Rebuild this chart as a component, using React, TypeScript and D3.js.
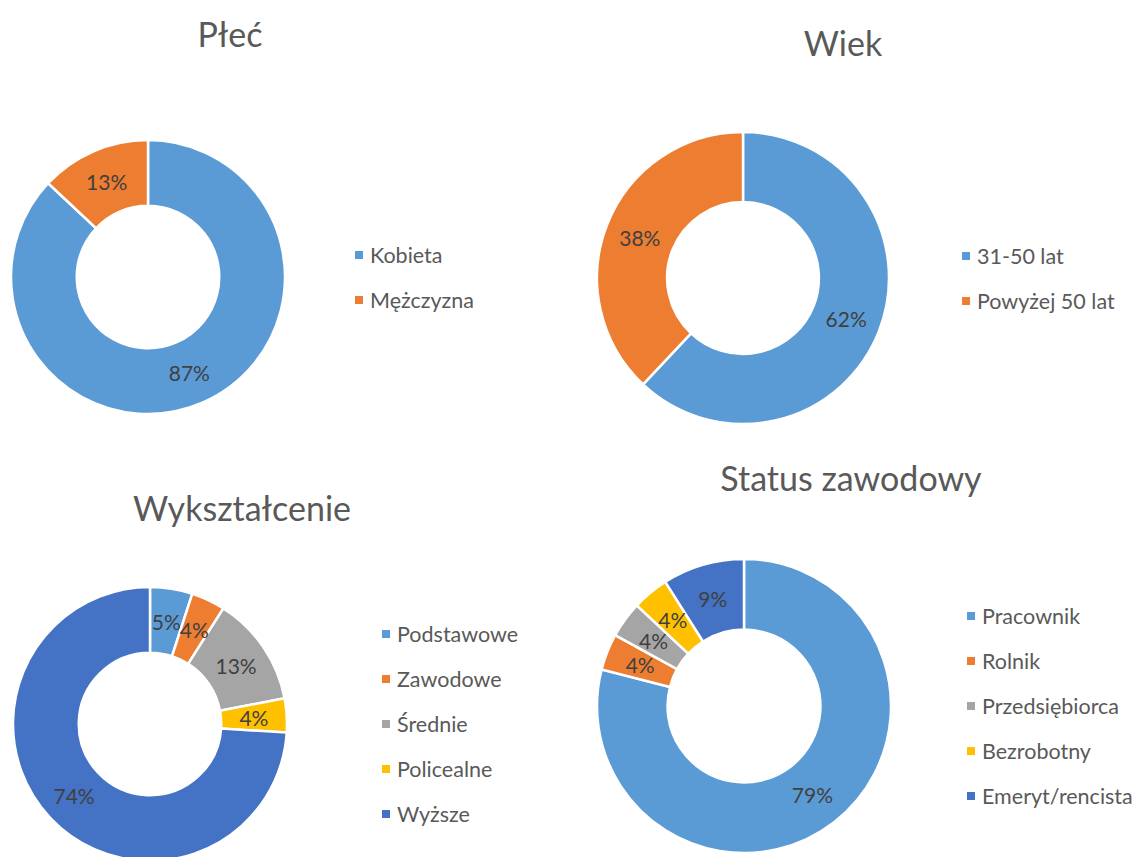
import React from "react";
import * as d3 from "d3";

const C_BLUE = "#5B9BD5";
const C_ORANGE = "#ED7D31";
const C_GRAY = "#A5A5A5";
const C_YELLOW = "#FFC000";
const C_DBLUE = "#4472C4";

const plecCategories = ["Kobieta", "Mężczyzna"];
const plecValues = [87, 13];
const plecColors = [C_BLUE, C_ORANGE];

const wiekCategories = ["31-50 lat", "Powyżej 50 lat"];
const wiekValues = [62, 38];
const wiekColors = [C_BLUE, C_ORANGE];

const wyksztCategories = ["Podstawowe", "Zawodowe", "Średnie", "Policealne", "Wyższe"];
const wyksztValues = [5, 4, 13, 4, 74];
const wyksztColors = [C_BLUE, C_ORANGE, C_GRAY, C_YELLOW, C_DBLUE];

const statusCategories = ["Pracownik", "Rolnik", "Przedsiębiorca", "Bezrobotny", "Emeryt/rencista"];
const statusValues = [79, 4, 4, 4, 9];
const statusColors = [C_BLUE, C_ORANGE, C_GRAY, C_YELLOW, C_DBLUE];

const FONT = "Lato, 'Open Sans', sans-serif";

type DonutProps = {
  title: string;
  titleX: number;
  titleY: number;
  cx: number;
  cy: number;
  r: number;
  categories: string[];
  values: number[];
  colors: string[];
  legendX: number;
  legendY: number;
  legendStep: number;
};

function Donut(p: DonutProps) {
  const pie = d3
    .pie<number>()
    .sort(null)
    .value((d) => d)
    .startAngle(0)
    .endAngle(2 * Math.PI);
  const arcs = pie(p.values);
  const inner = p.r * 0.52;
  const arc = d3.arc<d3.PieArcDatum<number>>().innerRadius(inner).outerRadius(p.r);
  const labelArc = d3
    .arc<d3.PieArcDatum<number>>()
    .innerRadius((inner + p.r) / 2)
    .outerRadius((inner + p.r) / 2);
  const total = d3.sum(p.values);
  return (
    <g>
      <text
        x={p.titleX}
        y={p.titleY}
        textAnchor="middle"
        dominantBaseline="central"
        fontFamily={FONT}
        fontSize={34}
        fill="#595959"
      >
        {p.title}
      </text>
      <g transform={`translate(${p.cx},${p.cy})`}>
        {arcs.map((a, i) => (
          <path key={i} d={arc(a) || ""} fill={p.colors[i]} stroke="#fff" strokeWidth={2.5} />
        ))}
        {arcs.map((a, i) => {
          const [x, y] = labelArc.centroid(a);
          return (
            <text
              key={"l" + i}
              x={x}
              y={y}
              textAnchor="middle"
              dominantBaseline="central"
              fontFamily={FONT}
              fontSize={21}
              fill="#404040"
            >
              {Math.round((p.values[i] / total) * 100) + "%"}
            </text>
          );
        })}
      </g>
      {p.categories.map((c, i) => (
        <g key={"g" + i} transform={`translate(${p.legendX},${p.legendY + i * p.legendStep})`}>
          <rect x={0} y={-4} width={8} height={8} fill={p.colors[i]} />
          <text
            x={15}
            y={0}
            dominantBaseline="central"
            fontFamily={FONT}
            fontSize={21.5}
            fill="#595959"
          >
            {c}
          </text>
        </g>
      ))}
    </g>
  );
}

export default function App() {
  return (
    <svg
      width={1141}
      height={857}
      style={{ position: "absolute", left: 0, top: 0, background: "#fff" }}
    >
      <rect width={1141} height={857} fill="#fff" />
      <Donut
        title="Płeć"
        titleX={230}
        titleY={33}
        cx={148}
        cy={277}
        r={137}
        categories={plecCategories}
        values={plecValues}
        colors={plecColors}
        legendX={355}
        legendY={255}
        legendStep={45}
      />
      <Donut
        title="Wiek"
        titleX={843}
        titleY={42}
        cx={743}
        cy={278}
        r={146}
        categories={wiekCategories}
        values={wiekValues}
        colors={wiekColors}
        legendX={962}
        legendY={256}
        legendStep={45}
      />
      <Donut
        title="Wykształcenie"
        titleX={242}
        titleY={507}
        cx={150}
        cy={724}
        r={137}
        categories={wyksztCategories}
        values={wyksztValues}
        colors={wyksztColors}
        legendX={382}
        legendY={634}
        legendStep={45}
      />
      <Donut
        title="Status zawodowy"
        titleX={851}
        titleY={477}
        cx={744}
        cy={706}
        r={147}
        categories={statusCategories}
        values={statusValues}
        colors={statusColors}
        legendX={967}
        legendY={616}
        legendStep={45}
      />
    </svg>
  );
}
